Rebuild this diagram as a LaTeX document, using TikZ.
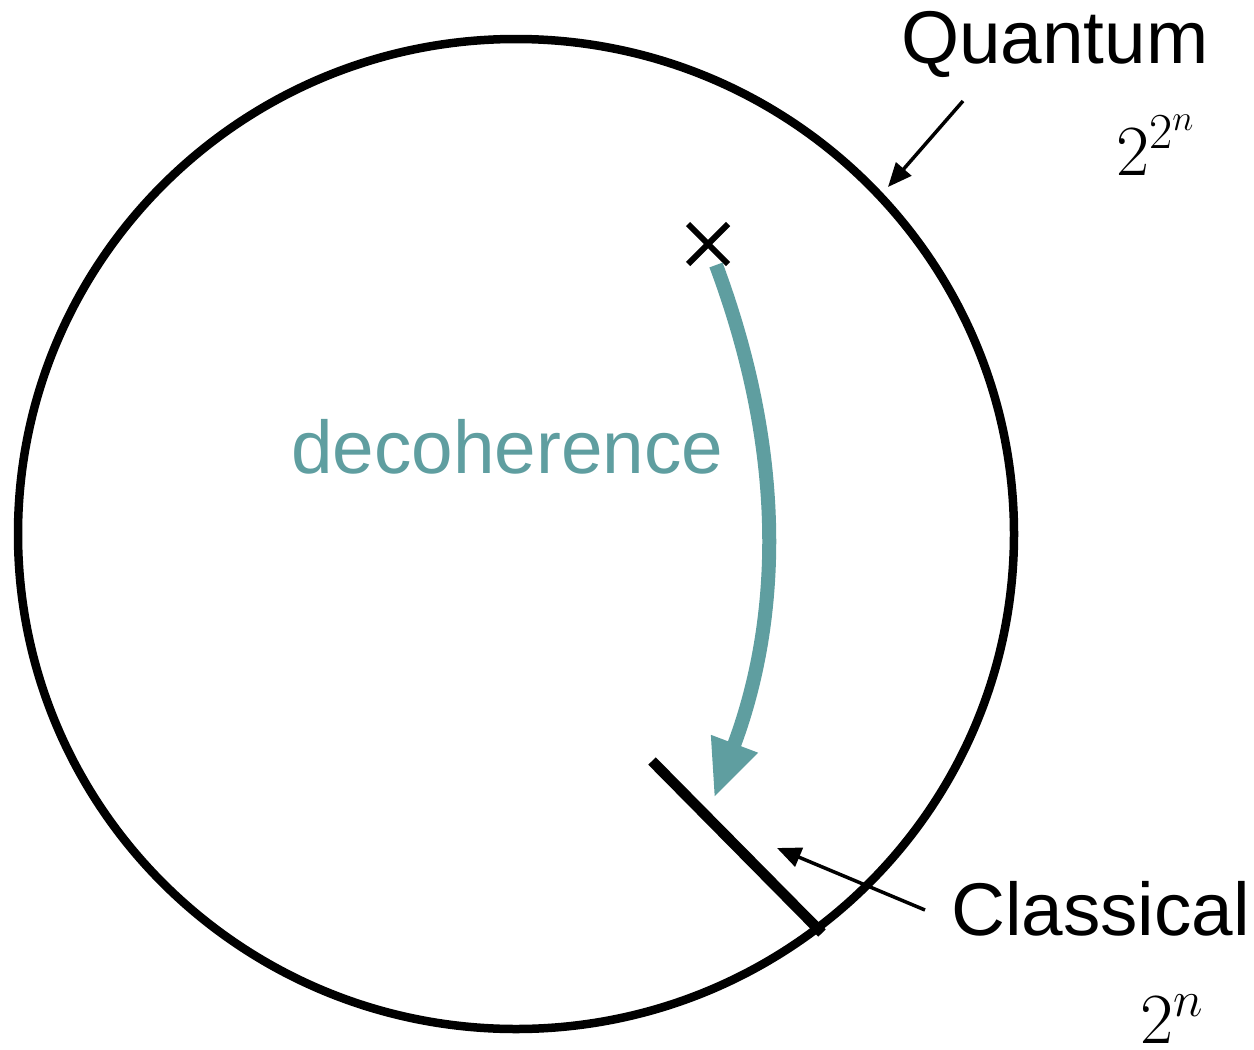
\RequirePackage{fix-cm}
\documentclass[tikz,border=0pt]{standalone}
\usepackage{fontspec}
\setmainfont{Liberation Sans}
\usetikzlibrary{arrows.meta,calc}
\definecolor{teal2}{HTML}{5F9EA0}
\begin{document}
\begin{tikzpicture}[x=1pt,y=-1pt,
  lbl/.style={anchor=base west, inner sep=0pt, font=\fontsize{74.7}{80}\selectfont},
  mathlbl/.style={anchor=base west, inner sep=0pt, font=\fontsize{72}{80}\selectfont},
  thinarrow/.style={line width=3.5pt, -{Triangle[length=24pt,width=20pt]}}]
\useasboundingbox (0,0) rectangle (1254,1050);
\coordinate (ctr) at (516,534);
\draw[line width=8.5pt] (ctr) ellipse [x radius=498, y radius=495];
% cross
\coordinate (xc) at (708,244);
\draw[line width=6pt] ($(xc)+(-20,-20)$) -- ($(xc)+(20,20)$) ($(xc)+(-20,20)$) -- ($(xc)+(20,-20)$);
% decoherence arrow
\coordinate (ds) at (716,265);
\coordinate (de) at (714,798);
\draw[teal2, line width=14pt, -{Triangle[length=58pt,width=46pt]}] (ds) .. controls (798,485) and (770,650) .. (de);
% classical bar
\coordinate (b1) at (652,761);
\coordinate (b2) at (822,933);
\draw[line width=10.5pt] (b1) -- (b2);
% labels
\node[lbl] (q) at (901,63) {Quantum};
\node[lbl] (c) at (951,935) {Classical};
\node[lbl, text=teal2] (d) at (291,473) {decoherence};
\node[mathlbl] (q2) at (1116,175) {$2^{2^n}$};
\node[mathlbl] (c2) at (1140,1043) {$2^n$};
% pointer arrows
\coordinate (qa) at (963,101);
\coordinate (qb) at (888,187);
\draw[thinarrow] (qa) -- (qb);
\coordinate (ca) at (925,910);
\coordinate (cb) at (777,848);
\draw[thinarrow] (ca) -- (cb);
\end{tikzpicture}
\end{document}
